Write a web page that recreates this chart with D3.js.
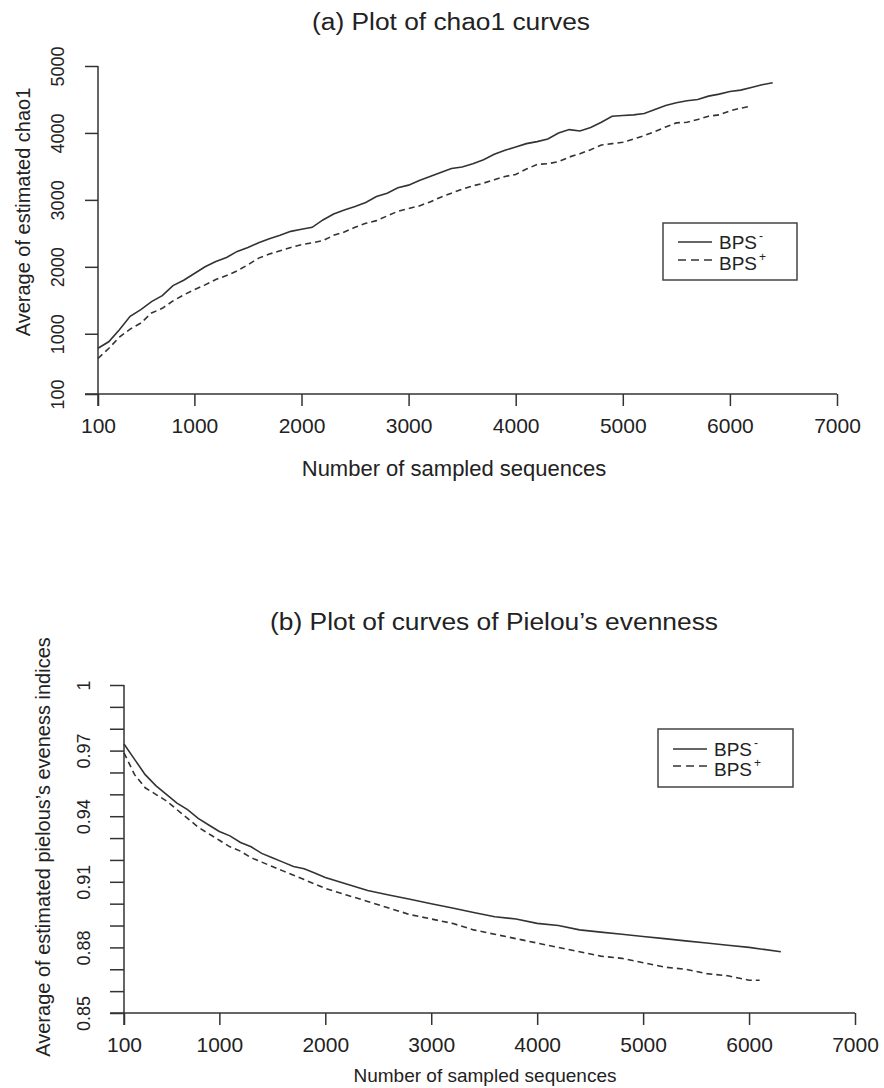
<!DOCTYPE html>
<html>
<head>
<meta charset="utf-8">
<script src="https://cdnjs.cloudflare.com/ajax/libs/d3/7.8.5/d3.min.js"></script>
<style>
  body { margin: 0; background: #fff; }
  text { font-family: "Liberation Sans", Arial, sans-serif; fill: #222; }
  .narrow { font-family: "Liberation Sans Narrow", "Arial Narrow", "Liberation Sans", sans-serif; }
</style>
</head>
<body>
<div id="viz"></div>
<script>
// ---- (a) chao1 data ----
const chaoMinusX = [100,200,300,400,500,600,700,800,900,1000,1100,1200,1300,1400,1500,1600,1700,1800,1900,2000,
  2100,2200,2300,2400,2500,2600,2700,2800,2900,3000,3100,3200,3300,3400,3500,3600,3700,3800,3900,4000,
  4100,4200,4300,4400,4500,4600,4700,4800,4900,5000,5100,5200,5300,5400,5500,5600,5700,5800,5900,6000,
  6100,6200,6300,6400];
const chaoMinus = [783,880,1060,1260,1360,1480,1570,1720,1800,1900,2000,2080,2140,2230,2290,2360,2420,2470,2530,2560,
  2590,2700,2790,2850,2900,2960,3050,3100,3180,3220,3290,3350,3410,3470,3490,3540,3600,3680,3740,3790,
  3840,3870,3910,4000,4050,4030,4080,4160,4250,4260,4270,4290,4350,4410,4450,4480,4500,4550,4580,4620,
  4640,4680,4720,4750];
const chaoPlusX = [100,200,300,400,500,600,700,800,900,1000,1100,1200,1300,1400,1500,1600,1700,1800,1900,2000,
  2100,2200,2300,2400,2500,2600,2700,2800,2900,3000,3100,3200,3300,3400,3500,3600,3700,3800,3900,4000,
  4100,4200,4300,4400,4500,4600,4700,4800,4900,5000,5100,5200,5300,5400,5500,5600,5700,5800,5900,6000,
  6100,6200];
const chaoPlus = [630,780,950,1070,1160,1310,1380,1490,1580,1660,1730,1810,1870,1940,2030,2130,2190,2240,2290,2330,
  2360,2390,2470,2520,2590,2650,2690,2760,2830,2870,2910,2970,3040,3100,3160,3210,3250,3300,3350,3380,
  3460,3530,3540,3570,3640,3690,3750,3820,3840,3860,3910,3960,4020,4090,4150,4160,4200,4250,4270,4330,
  4370,4400];
const chaoXTicks = [100,1000,2000,3000,4000,5000,6000,7000];
const chaoYTicks = [100,1000,2000,3000,4000,5000];

// ---- (b) Pielou's evenness data ----
const evenMinusX = [100,200,300,400,500,600,700,800,900,1000,1100,1200,1300,1400,1500,1600,1700,1800,1900,2000,
  2200,2400,2600,2800,3000,3200,3400,3600,3800,4000,4200,4400,4600,4800,5000,5200,5400,5600,5800,6000,6300];
const evenMinus = [0.973,0.966,0.959,0.954,0.950,0.946,0.943,0.939,0.936,0.933,0.931,0.928,0.926,0.923,0.921,0.919,0.917,0.916,0.914,0.912,
  0.909,0.906,0.904,0.902,0.900,0.898,0.896,0.894,0.893,0.891,0.890,0.888,0.887,0.886,0.885,0.884,0.883,0.882,0.881,0.880,0.878];
const evenPlusX = [100,200,300,400,500,600,700,800,900,1000,1100,1200,1300,1400,1500,1600,1700,1800,1900,2000,
  2200,2400,2600,2800,3000,3200,3400,3600,3800,4000,4200,4400,4600,4800,5000,5200,5400,5600,5800,6000,6100];
const evenPlus = [0.969,0.959,0.953,0.950,0.947,0.943,0.939,0.935,0.932,0.929,0.926,0.924,0.921,0.919,0.917,0.915,0.913,0.911,0.909,0.907,
  0.904,0.901,0.898,0.895,0.893,0.891,0.888,0.886,0.884,0.882,0.880,0.878,0.876,0.875,0.873,0.871,0.870,0.868,0.867,0.865,0.865];
const evenXTicks = [100,1000,2000,3000,4000,5000,6000,7000];
const evenYTicks = [0.85,0.86,0.87,0.88,0.89,0.90,0.91,0.92,0.93,0.94,0.95,0.96,0.97,0.98,0.99,1];
const evenYLabels = [0.85,0.88,0.91,0.94,0.97,1];

const seriesNames = ['BPS', 'BPS'];
const seriesSup = ['-', '+'];

const width = 884;
const height = 1088;
const ink = '#333';

const svg = d3.select('#viz')
    .append('svg')
    .attr('width', width)
    .attr('height', height);

function drawPanel(p) {
    const x = d3.scaleLinear().domain([100, 7000]).range(p.xRange);
    const y = d3.scaleLinear().domain(p.yDomain).range(p.yRange);
    const g = svg.append('g');
    const y0 = p.yRange[0];
    const tickX = 12;
    const tickY = p.yTickLen;

    // x axis
    const xAxis = d3.axisBottom(x).tickValues(p.xTicks).tickSize(tickX).tickPadding(p.xPad)
        .tickFormat(d3.format('d'));
    const xg = g.append('g')
        .attr('transform', `translate(0,${y0})`)
        .call(xAxis);
    xg.select('.domain').remove();
    xg.selectAll('line').attr('stroke', ink).attr('stroke-width', 1.5);
    xg.selectAll('text').attr('font-size', 21).attr('fill', '#222')
        .attr('font-family', '"Liberation Sans", Arial, sans-serif');
    g.append('line')
        .attr('x1', p.xRange[0] - tickY).attr('x2', p.xRange[1])
        .attr('y1', y0).attr('y2', y0)
        .attr('stroke', ink).attr('stroke-width', 1.5);

    // y axis, labels turned like R's default
    const yAxis = d3.axisLeft(y).tickValues(p.yTicks).tickSize(tickY)
        .tickFormat(d => p.yLabels.includes(d) ? p.yFmt(d) : '');
    const yg = g.append('g')
        .attr('transform', `translate(${p.xRange[0]},0)`)
        .call(yAxis);
    yg.select('.domain').remove();
    yg.selectAll('line').attr('stroke', ink).attr('stroke-width', 1.5);
    yg.selectAll('text')
        .attr('x', null).attr('dy', null)
        .attr('text-anchor', 'middle')
        .attr('transform', `translate(${-p.yLabelOff},0) rotate(-90)`)
        .attr('font-size', 18).attr('fill', '#222')
        .attr('font-family', '"Liberation Sans", Arial, sans-serif');
    g.append('line')
        .attr('x1', p.xRange[0]).attr('x2', p.xRange[0])
        .attr('y1', p.yRange[1]).attr('y2', y0 + tickX)
        .attr('stroke', ink).attr('stroke-width', 1.5);

    // curves
    const line = d3.line()
        .x(d => x(d[0]))
        .y(d => y(d[1]))
        .curve(d3.curveLinear);
    const series = [
        {pts: d3.zip(p.minusX, p.minus), dash: null},
        {pts: d3.zip(p.plusX, p.plus), dash: '6,4'}
    ];
    g.selectAll('.curve')
        .data(series)
        .enter()
        .append('path')
        .attr('class', 'curve')
        .attr('fill', 'none')
        .attr('stroke', ink)
        .attr('stroke-width', 1.6)
        .attr('stroke-dasharray', d => d.dash)
        .attr('d', d => line(d.pts));

    // titles
    g.append('text')
        .attr('class', 'narrow')
        .attr('x', p.title.x).attr('y', p.title.y)
        .attr('text-anchor', 'middle')
        .attr('font-size', 23)
        .attr('textLength', p.title.len).attr('lengthAdjust', 'spacingAndGlyphs')
        .text(p.title.text);
    g.append('text')
        .attr('x', p.xTitle.x).attr('y', p.xTitle.y)
        .attr('text-anchor', 'middle')
        .attr('font-size', p.xTitle.size)
        .text('Number of sampled sequences');
    g.append('text')
        .attr('transform', `translate(${p.yTitle.x},${p.yTitle.y}) rotate(-90)`)
        .attr('text-anchor', 'middle')
        .attr('font-size', 20)
        .text(p.yTitle.text);

    // legend
    const L = p.legend;
    const lg = g.append('g').attr('transform', `translate(${L.x},${L.y})`);
    lg.append('rect')
        .attr('width', L.w).attr('height', L.h)
        .attr('fill', 'none').attr('stroke', '#444').attr('stroke-width', 1.5);
    const rows = lg.selectAll('.row')
        .data(seriesNames)
        .enter()
        .append('g')
        .attr('class', 'row')
        .attr('transform', (d, i) => `translate(0,${L.rowY[i]})`);
    rows.append('line')
        .attr('x1', 15).attr('x2', 49)
        .attr('stroke', ink).attr('stroke-width', 1.6)
        .attr('stroke-dasharray', (d, i) => i === 1 ? '8,5' : null);
    rows.append('text')
        .attr('x', 56).attr('y', (d, i) => i === 1 ? 10 : 7)
        .attr('font-size', 19)
        .text(d => d);
    rows.append('text')
        .attr('x', 96).attr('y', (d, i) => i === 1 ? 1 : -2)
        .attr('font-size', 12)
        .text((d, i) => seriesSup[i]);
}

drawPanel({
    xRange: [98, 837],
    yDomain: [100, 5000],
    yRange: [394, 66],
    xTicks: chaoXTicks,
    yTicks: chaoYTicks,
    yLabels: chaoYTicks,
    yFmt: d3.format('d'),
    yTickLen: 13,
    yLabelOff: 34,
    xPad: 12,
    minusX: chaoMinusX, minus: chaoMinus,
    plusX: chaoPlusX, plus: chaoPlus,
    title: {x: 451, y: 30, len: 278, text: '(a) Plot of chao1 curves'},
    xTitle: {x: 454, y: 476, size: 22},
    yTitle: {x: 30, y: 212, text: 'Average of estimated chao1'},
    legend: {x: 663, y: 223, w: 134, h: 57, rowY: [19, 37]}
});

drawPanel({
    xRange: [124, 855],
    yDomain: [0.85, 1],
    yRange: [1013, 685],
    xTicks: evenXTicks,
    yTicks: evenYTicks,
    yLabels: evenYLabels,
    yFmt: d => d === 1 ? '1' : d3.format('.2f')(d),
    yTickLen: 14,
    yLabelOff: 34,
    xPad: 12,
    minusX: evenMinusX, minus: evenMinus,
    plusX: evenPlusX, plus: evenPlus,
    title: {x: 494, y: 630, len: 448, text: '(b) Plot of curves of Pielou\u2019s evenness'},
    xTitle: {x: 485, y: 1082, size: 19},
    yTitle: {x: 50, y: 847, text: 'Average of estimated pielous\u2019s eveness indices'},
    legend: {x: 658, y: 729, w: 135, h: 58, rowY: [20, 37]}
});
</script>
</body>
</html>
